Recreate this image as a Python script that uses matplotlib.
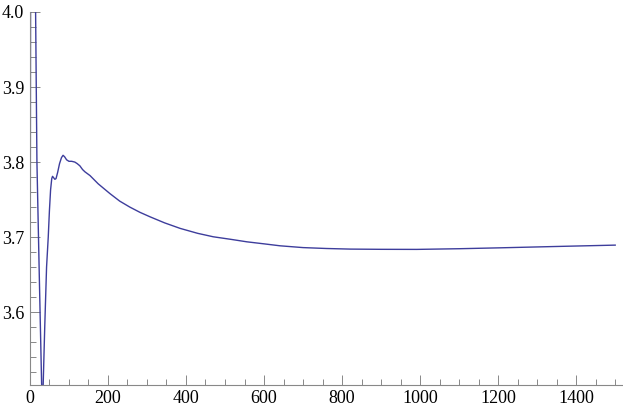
import numpy as np
import matplotlib.pyplot as plt
from matplotlib.ticker import MultipleLocator

# values
x = [0, 3, 8, 12, 14.6, 18, 24, 30, 32, 34, 38, 42.7, 47, 50, 53, 56, 58, 61,
     64, 67, 71, 76, 81, 85, 89, 94, 100, 107, 115, 121, 128, 135, 141, 154,
     175, 205, 230, 256, 282, 308, 345, 385, 430, 470, 515, 556, 600, 641, 700,
     760, 821, 900, 991, 1100, 1205, 1350, 1500]
y = [3.30, 4.60, 4.80, 4.30, 4.00, 3.80, 3.65, 3.505, 3.48, 3.503, 3.58, 3.66,
     3.70, 3.735, 3.763, 3.778, 3.781, 3.779, 3.777, 3.778, 3.786, 3.798, 3.806,
     3.809, 3.807, 3.803, 3.801, 3.801, 3.800, 3.798, 3.795, 3.790, 3.787,
     3.782, 3.771, 3.758, 3.748, 3.740, 3.733, 3.727, 3.719, 3.7116, 3.705,
     3.7004, 3.697, 3.6937, 3.691, 3.6884, 3.686, 3.6848, 3.684, 3.6837,
     3.6836, 3.6845, 3.6857, 3.6875, 3.6893]

xticks = [0, 200, 400, 600, 800, 1000, 1200, 1400]
yticks = [3.6, 3.7, 3.8, 3.9, 4.0]

plt.rcParams['font.family'] = 'Liberation Serif'

fig = plt.figure(figsize=(6.23, 4.13), dpi=100)
ax = fig.add_axes([0.048, 0.068, 0.952, 0.903])
ax.plot(x, y, color='#3d3d9c', lw=1.0, clip_on=True)

ax.set_xlim(0, 1520)
ax.set_ylim(3.503, 4.0)
ax.set_xticks(xticks)
ax.set_xticklabels([str(t) for t in xticks])
ax.set_yticks(yticks)
ax.set_yticklabels(['%.1f' % t for t in yticks])
ax.xaxis.set_minor_locator(MultipleLocator(50))
ax.yaxis.set_minor_locator(MultipleLocator(0.02))

for s in ['top', 'right']:
    ax.spines[s].set_visible(False)
for s in ['left', 'bottom']:
    ax.spines[s].set_color('#888888')
    ax.spines[s].set_linewidth(0.8)

ax.tick_params(which='both', direction='in', color='#888888', width=0.7,
               labelsize=13, pad=4)
ax.tick_params(which='major', length=7)
ax.tick_params(which='minor', length=4)

fig.savefig('out.png', dpi=100)
